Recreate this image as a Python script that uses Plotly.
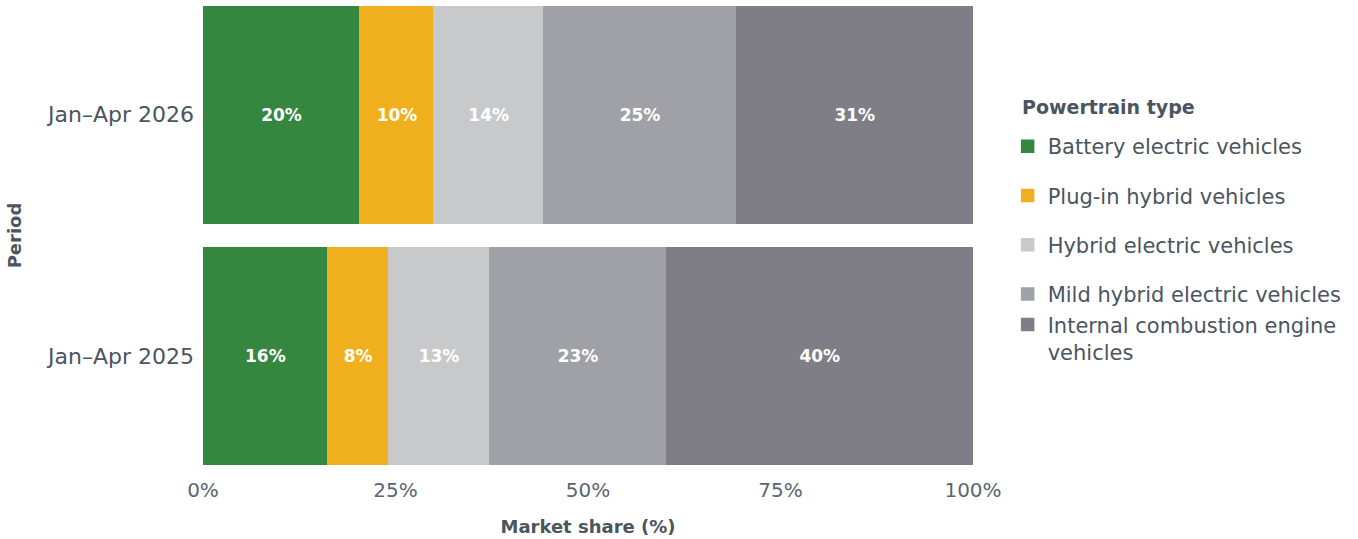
import plotly.graph_objects as go

periods = ["Jan–Apr 2025", "Jan–Apr 2026"]
series_names = [
    "Battery electric vehicles",
    "Plug-in hybrid vehicles",
    "Hybrid electric vehicles",
    "Mild hybrid electric vehicles",
    "Internal combustion engine<br>vehicles",
]
legend_groups = ["bev", "phev", "hev", "mhev_ice", "mhev_ice"]
bev = [16.2, 20.4]
phev = [7.9, 9.6]
hev = [13.1, 14.2]
mhev = [23.0, 25.1]
ice = [39.8, 30.7]
values = [bev, phev, hev, mhev, ice]
colors = ["#35873f", "#f0b01e", "#c8c9cb", "#a0a1a6", "#7f7e87"]
x_ticks = [0, 25, 50, 75, 100]
x_tick_labels = ["0%", "25%", "50%", "75%", "100%"]

FONT = "DejaVu Sans"
TXT = "#4a5560"

fig = go.Figure()
for name, vals, col, grp in zip(series_names, values, colors, legend_groups):
    fig.add_trace(go.Bar(
        y=periods, x=vals, name=name, orientation="h",
        marker=dict(color=col, line=dict(width=1.5, color=col)),
        text=[f"{round(v)}%" for v in vals],
        textposition="inside", insidetextanchor="middle",
        textangle=0,
        textfont=dict(family=FONT, size=17, color="white", weight="bold"),
        legendgroup=grp,
    ))

fig.add_annotation(
    text="<b>Powertrain type</b>", xref="paper", yref="paper",
    x=1.061, xanchor="left", y=0.78, yanchor="middle", showarrow=False,
    font=dict(family=FONT, size=19, color=TXT),
)

fig.update_layout(
    barmode="stack", bargap=0.1,
    width=1358, height=539,
    margin=dict(l=203, r=385, t=6, b=74),
    plot_bgcolor="white", paper_bgcolor="white",
    font=dict(family=FONT, color=TXT, size=21),
    uniformtext=dict(mode="show", minsize=16),
    xaxis=dict(range=[0, 100], tickvals=x_ticks, ticktext=x_tick_labels,
               showgrid=False, zeroline=False, showline=False, ticks="",
               ticklabelstandoff=11, automargin=False,
               tickfont=dict(size=20, color="#5b6670"),
               title=dict(text="Market share (%)", font=dict(size=18, color=TXT, weight="bold"), standoff=19)),
    yaxis=dict(range=[-0.45, 1.45], showgrid=False, zeroline=False, showline=False, ticks="",
               ticklabelstandoff=8, automargin=False,
               tickfont=dict(size=22, color=TXT),
               title=dict(text="Period", font=dict(size=18, color=TXT, weight="bold"), standoff=19)),
    legend=dict(
        x=1.045, xanchor="left", y=0.7385, yanchor="top",
        traceorder="grouped", tracegroupgap=19, valign="top",
        groupclick="toggleitem",
        font=dict(size=21, color=TXT),
        itemwidth=30,
    ),
    showlegend=True,
)

fig.write_html("out.html")
